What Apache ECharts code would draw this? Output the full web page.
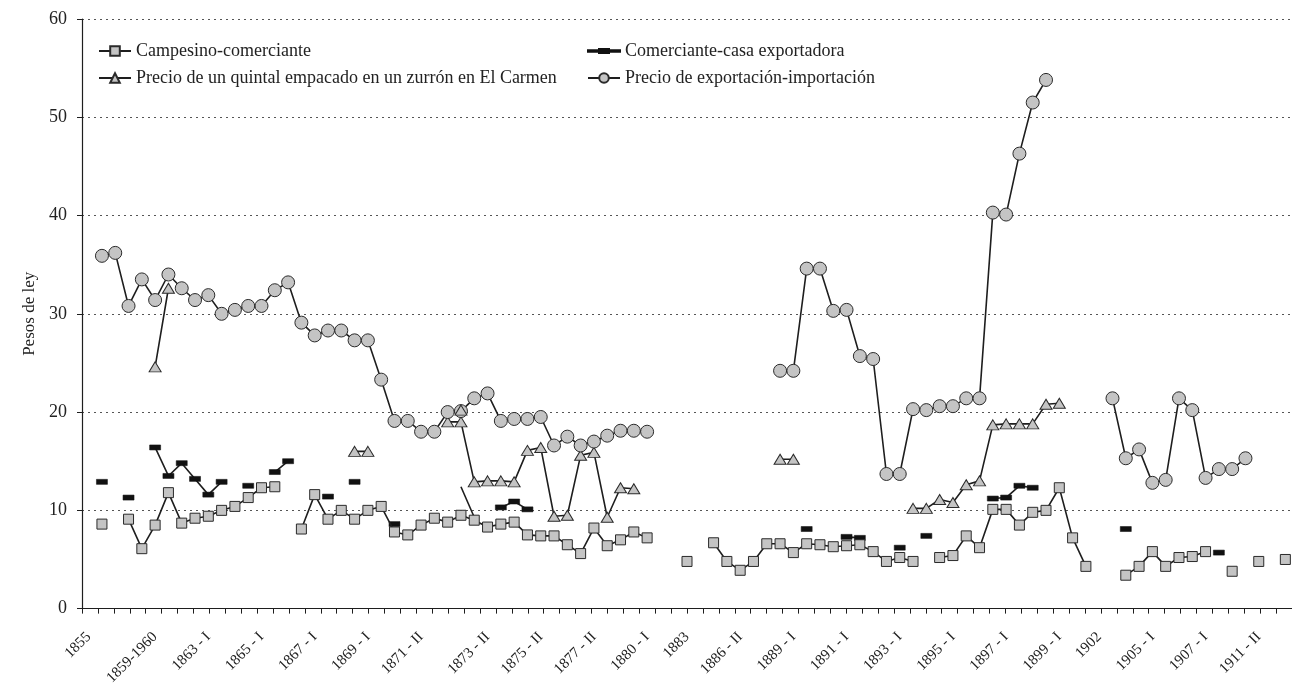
<!DOCTYPE html>
<html><head><meta charset="utf-8">
<script src="https://cdn.jsdelivr.net/npm/echarts@6/dist/echarts.min.js"></script>
<style>html,body{margin:0;padding:0;background:#fff}#c{width:1292px;height:688px}</style>
</head><body><div id="c"></div>
<script>
// 91 categories; only some carry a printed label
const categories = [
 '1855','','','','','1859-1960','','','','1863 - I',
 '','','','1865 - I','','','','1867 - I','','',
 '','1869 - I','','','','1871 - II','','','','',
 '1873 - II','','','','1875 - II','','','','1877 - II','',
 '','','1880 - I','','','1883','','','','1886 - II',
 '','','','1889 - I','','','','1891 - I','','',
 '','1893 - I','','','','1895 - I','','','','1897 - I',
 '','','','1899 - I','','','1902','','','',
 '1905 - I','','','','1907 - I','','','','1911 - II','',
 ''
];
const campesino = [
 null,8.6,null,9.1,6.1,8.5,11.8,8.7,9.2,9.4,
 10.0,10.4,11.3,12.3,12.4,null,8.1,11.6,9.1,10.0,
 9.1,10.0,10.4,7.8,7.5,8.5,9.2,8.8,9.5,9.0,
 8.3,8.6,8.8,7.5,7.4,7.4,6.5,5.6,8.2,6.4,
 7.0,7.8,7.2,null,null,4.8,null,6.7,4.8,3.9,
 4.8,6.6,6.6,5.7,6.6,6.5,6.3,6.4,6.5,5.8,
 4.8,5.2,4.8,null,5.2,5.4,7.4,6.2,10.1,10.1,
 8.5,9.8,10.0,12.3,7.2,4.3,null,null,3.4,4.3,
 5.8,4.3,5.2,5.3,5.8,null,3.8,null,4.8,null,
 5.0
];
const comerciante = [
 null,12.9,null,11.3,null,16.4,13.5,14.8,13.2,11.6,
 12.9,null,12.5,null,13.9,15.0,null,null,11.4,null,
 12.9,null,null,8.6,null,null,null,null,12.4,9.3,
 null,10.3,10.9,10.1,null,null,null,null,null,null,
 null,null,null,null,null,null,null,null,null,null,
 null,null,null,null,8.1,null,null,7.3,7.2,null,
 null,6.2,null,7.4,null,null,null,null,11.2,11.3,
 12.5,12.3,null,null,null,null,null,null,8.1,null,
 null,null,null,null,null,5.7,null,null,null,null,
 null
];
// points of the Comerciante line drawn without a marker
const comercianteNoMarker = [28, 29];
const quintal = [
 null,null,null,null,null,24.6,32.6,null,null,null,
 null,null,null,null,null,null,null,null,null,null,
 16.0,16.0,null,null,null,null,null,19.0,19.0,12.9,
 13.0,13.0,12.9,16.1,16.4,9.4,9.5,15.6,15.9,9.3,
 12.3,12.2,null,null,null,null,null,null,null,null,
 null,null,15.2,15.2,null,null,null,null,null,null,
 null,null,10.2,10.2,11.1,10.8,12.6,13.0,18.7,18.8,
 18.8,18.8,20.8,20.9,null,null,null,null,null,null,
 null,null,null,null,null,null,null,null,null,null,
 null
];
// a second, unconnected triangle printed at category 28
const quintalExtra = { index: 28, value: 20.2 };
const exportacion = [
 null,35.9,36.2,30.8,33.5,31.4,34.0,32.6,31.4,31.9,
 30.0,30.4,30.8,30.8,32.4,33.2,29.1,27.8,28.3,28.3,
 27.3,27.3,23.3,19.1,19.1,18.0,18.0,20.0,20.1,21.4,
 21.9,19.1,19.3,19.3,19.5,16.6,17.5,16.6,17.0,17.6,
 18.1,18.1,18.0,null,null,null,null,null,null,null,
 null,null,24.2,24.2,34.6,34.6,30.3,30.4,25.7,25.4,
 13.7,13.7,20.3,20.2,20.6,20.6,21.4,21.4,40.3,40.1,
 46.3,51.5,53.8,null,null,null,null,21.4,15.3,16.2,
 12.8,13.1,21.4,20.2,13.3,14.2,14.2,15.3,null,null,
 null
];
const names = {
  campesino: 'Campesino-comerciante',
  comerciante: 'Comerciante-casa exportadora',
  quintal: 'Precio de un quintal empacado en un zurrón en El Carmen',
  exportacion: 'Precio de exportación-importación'
};
const yTicks = { min: 0, max: 60, step: 10 };

const FONT = '"Liberation Serif", "DejaVu Serif", serif';
const INK = '#1e1e1e';
const lineStyle = { color: INK, width: 1.6 };
const grayMarker = { color: '#c4c4c4', borderColor: '#2a2a2a', borderWidth: 1 };

const extraData = categories.map((_, i) => i === quintalExtra.index ? quintalExtra.value : null);
const comercianteData = comerciante.map((v, i) =>
  comercianteNoMarker.includes(i) ? { value: v, symbol: 'none' } : v);

// legend glyph for the dash-marker series: thin line with a short thick bar
// (the two bare moveTo points only fix the icon's bounding box)
const dashIcon = 'path://M0,0M32,12M0,5.3H32V6.7H0Z M11,4H21V8H11Z';

const chart = echarts.init(document.getElementById('c'));
const legendText = { fontFamily: FONT, fontSize: 18, color: '#222' };
chart.setOption({
  animation: false,
  grid: { left: 82, right: -8, top: 19, bottom: 79 },
  legend: [
    { orient: 'vertical', left: 93, top: 37, itemGap: 9, itemWidth: 32, itemHeight: 12,
      data: [names.campesino, names.quintal], textStyle: legendText },
    { orient: 'vertical', left: 582, top: 37, itemGap: 9, itemWidth: 32, itemHeight: 12,
      data: [{ name: names.comerciante, icon: dashIcon }, names.exportacion], textStyle: legendText }
  ],
  xAxis: [
    { type: 'category', data: categories, boundaryGap: true,
      axisLine: { show: true, lineStyle: { color: INK, width: 1.2 } },
      axisTick: { show: false },
      axisLabel: { interval: 0, rotate: 45, fontFamily: FONT, fontSize: 15, color: '#222', margin: 26 } },
    { type: 'category', data: new Array(76).fill(''), position: 'bottom', boundaryGap: true,
      axisLine: { show: false }, axisLabel: { show: false }, splitLine: { show: false },
      axisTick: { show: true, length: 5, lineStyle: { color: INK } } }
  ],
  yAxis: {
    type: 'value', min: yTicks.min, max: yTicks.max, interval: yTicks.step,
    name: 'Pesos de ley', nameLocation: 'middle', nameGap: 44,
    nameTextStyle: { fontFamily: FONT, fontSize: 17, color: '#222' },
    axisLine: { show: true, lineStyle: { color: INK, width: 1.2 } },
    axisTick: { show: true, length: 5, lineStyle: { color: INK } },
    axisLabel: { fontFamily: FONT, fontSize: 18, color: '#222', margin: 15 },
    splitLine: { show: true, lineStyle: { type: [2, 4], color: '#555', width: 1 } }
  },
  series: [
    { name: names.campesino, type: 'line', data: campesino, symbol: 'rect', symbolSize: 10,
      showAllSymbol: true, lineStyle, itemStyle: grayMarker, z: 3 },
    { name: names.comerciante, type: 'line', data: comercianteData, symbol: 'rect', symbolSize: [11, 5],
      showAllSymbol: true, lineStyle, itemStyle: { color: '#111', borderColor: '#111', borderWidth: 0.5 }, z: 2 },
    { name: names.quintal, type: 'line', data: quintal, symbol: 'triangle', symbolSize: [12, 10],
      showAllSymbol: true, lineStyle, itemStyle: grayMarker, z: 4 },
    { name: names.exportacion, type: 'line', data: exportacion, symbol: 'circle', symbolSize: 13,
      showAllSymbol: true, lineStyle, itemStyle: grayMarker, z: 5 },
    { name: names.quintal, type: 'line', data: extraData, symbol: 'triangle', symbolSize: [12, 10],
      showAllSymbol: true, lineStyle, itemStyle: grayMarker, z: 6 }
  ]
});
</script>
</body></html>
